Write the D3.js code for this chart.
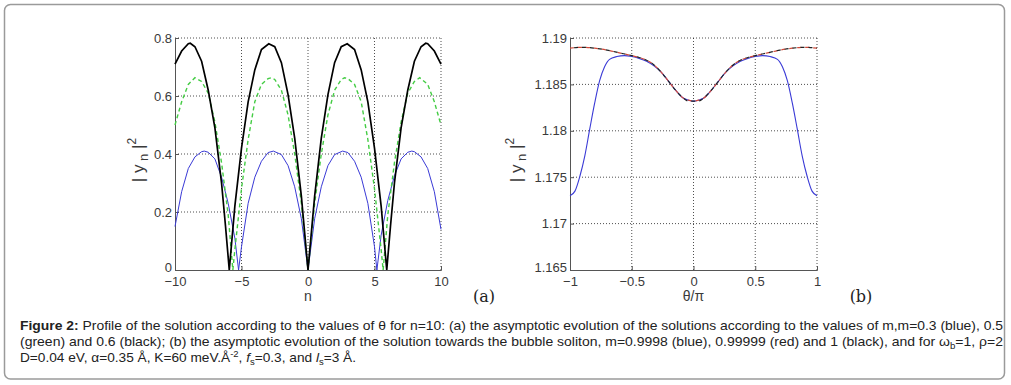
<!DOCTYPE html>
<html>
<head>
<meta charset="utf-8">
<script src="https://cdn.jsdelivr.net/npm/d3@7"></script>
<style>
body { margin: 0; background: #fff; }
svg text { font-family: "Liberation Sans", Arial, sans-serif; }
</style>
</head>
<body>
<script>
// panel (a): |y_n|^2 against n, m = 0.3 (blue), 0.5 (green), 0.6 (black)
const blueA = [[-10,0.15],[-9.5,0.27],[-9,0.35],[-8.5,0.39],[-8,0.408],[-7.8,0.41],[-7.5,0.406],[-7,0.383],[-6.5,0.32],[-6,0.23],[-5.5,0.11],[-5.22,0],
  [-5,0.08],[-4.5,0.23],[-4,0.32],[-3.5,0.375],[-3,0.405],[-2.6,0.41],[-2,0.398],[-1.5,0.36],[-1,0.287],[-0.5,0.177],[0,0],
  [0.5,0.177],[1,0.287],[1.5,0.36],[2,0.398],[2.6,0.41],[3,0.405],[3.5,0.375],[4,0.32],[4.5,0.23],[5,0.08],[5.18,0],
  [5.5,0.12],[6,0.24],[6.5,0.325],[7,0.383],[7.5,0.406],[7.8,0.41],[8,0.408],[8.5,0.39],[9,0.35],[9.5,0.27],[10,0.14]]
const greenA = [[-10,0.5],[-9.5,0.58],[-9,0.64],[-8.5,0.663],[-8,0.65],[-7.5,0.61],[-7,0.51],[-6.5,0.37],[-6,0.19],[-5.65,0],
  [-5.5,0.07],[-5,0.28],[-4.5,0.45],[-4,0.58],[-3.5,0.64],[-3,0.66],[-2.75,0.663],[-2.5,0.657],[-2,0.62],[-1.5,0.535],[-1,0.4],[-0.5,0.23],[0,0],
  [0.5,0.23],[1,0.4],[1.5,0.535],[2,0.62],[2.5,0.657],[2.75,0.663],[3,0.66],[3.5,0.64],[4,0.58],[4.5,0.45],[5,0.28],[5.5,0.07],[5.65,0],
  [6,0.19],[6.5,0.37],[7,0.51],[7.5,0.61],[8,0.65],[8.4,0.663],[9,0.64],[9.5,0.58],[10,0.5]]
const blackA = [[-10,0.71],[-9.5,0.755],[-9,0.78],[-8.85,0.782],[-8.5,0.77],[-8,0.72],[-7.5,0.62],[-7,0.49],[-6.5,0.3],[-6.2,0.15],[-5.92,0],
  [-5.5,0.22],[-5,0.42],[-4.5,0.58],[-4,0.69],[-3.5,0.76],[-2.95,0.78],[-2.5,0.77],[-2,0.715],[-1.5,0.605],[-1,0.455],[-0.5,0.255],[0,0],
  [0.5,0.255],[1,0.455],[1.5,0.605],[2,0.715],[2.5,0.77],[2.95,0.78],[3.5,0.76],[4,0.69],[4.5,0.58],[5,0.42],[5.5,0.22],[5.92,0],
  [6.2,0.15],[6.5,0.3],[7,0.49],[7.5,0.62],[8,0.72],[8.5,0.77],[8.85,0.782],[9,0.78],[9.5,0.755],[10,0.71]]
const nTicks = [-10, -5, 0, 5, 10]
const yTicksA = [0, 0.2, 0.4, 0.6, 0.8]

// panel (b): |y_n|^2 against theta/pi, m = 0.9998 (blue), 0.99999 (red), 1 (black)
const blueB = [[-1,1.1730],[-0.96,1.1735],[-0.92,1.1751],[-0.88,1.1773],[-0.84,1.1802],[-0.8,1.1830],[-0.76,1.1854],[-0.72,1.1869],[-0.68,1.1877],
  [-0.62,1.1880],[-0.56,1.1881],[-0.5,1.1880],[-0.44,1.1878],[-0.38,1.1875],[-0.32,1.1870],[-0.26,1.1863],[-0.2,1.1853],[-0.14,1.1843],
  [-0.08,1.1835],[-0.04,1.1833],[0,1.1832],[0.04,1.1833],[0.08,1.1835],[0.14,1.1843],[0.2,1.1853],[0.26,1.1863],[0.32,1.1870],[0.38,1.1875],
  [0.44,1.1878],[0.5,1.1880],[0.56,1.1881],[0.62,1.1880],[0.68,1.1877],[0.72,1.1869],[0.76,1.1854],[0.8,1.1830],[0.84,1.1802],[0.88,1.1773],
  [0.92,1.1751],[0.96,1.1735],[1,1.1730]]
const redB = [[-1,1.1889],[-0.9,1.1890],[-0.8,1.1889],[-0.7,1.1887],[-0.6,1.1884],[-0.5,1.1881],[-0.44,1.1879],[-0.38,1.1876],[-0.32,1.1871],
  [-0.26,1.1863],[-0.2,1.1853],[-0.14,1.1843],[-0.08,1.1835],[-0.04,1.1833],[0,1.1832],[0.04,1.1833],[0.08,1.1835],[0.14,1.1843],[0.2,1.1853],
  [0.26,1.1863],[0.32,1.1871],[0.38,1.1876],[0.44,1.1879],[0.5,1.1881],[0.6,1.1884],[0.7,1.1887],[0.8,1.1889],[0.9,1.1890],[1,1.1889]]
const blackB = [[-1,1.1889],[-0.9,1.1890],[-0.8,1.1889],[-0.7,1.1887],[-0.6,1.1884],[-0.5,1.1881],[-0.44,1.1879],[-0.38,1.1876],[-0.32,1.1871],
  [-0.26,1.1863],[-0.2,1.1853],[-0.14,1.1843],[-0.08,1.1835],[-0.04,1.1832],[0,1.1832],[0.04,1.1832],[0.08,1.1835],[0.14,1.1843],[0.2,1.1853],
  [0.26,1.1863],[0.32,1.1871],[0.38,1.1876],[0.44,1.1879],[0.5,1.1881],[0.6,1.1884],[0.7,1.1887],[0.8,1.1889],[0.9,1.1890],[1,1.1889]]
const thetaTicks = [-1, -0.5, 0, 0.5, 1]
const yTicksB = [1.165, 1.17, 1.175, 1.18, 1.185, 1.19]

const svg = d3.select('body').append('svg')
    .attr('width', 1011)
    .attr('height', 385)

// outer frame
svg.append('rect')
    .attr('x', 4.5).attr('y', 4.5)
    .attr('width', 1000).attr('height', 374.5)
    .attr('rx', 6)
    .attr('fill', 'none')
    .attr('stroke', '#9a9a9a')
    .attr('stroke-width', 1.5)

const fmt = d => String(d).replace('-', '\u2212')

function panel(opts) {
    let x = d3.scaleLinear().domain(opts.xDomain).range([opts.left, opts.right])
    let y = d3.scaleLinear().domain(opts.yDomain).range([opts.bottom, opts.top])
    let g = svg.append('g')

    // dotted grid (also gives the top and right edges)
    g.selectAll('.gx').data(opts.xTicks.slice(1)).join('line')
        .attr('x1', d => x(d)).attr('x2', d => x(d))
        .attr('y1', opts.top).attr('y2', opts.bottom)
        .attr('stroke', '#222').attr('stroke-dasharray', '1,2').attr('stroke-width', 0.8)
    g.selectAll('.gy').data(opts.yTicks.slice(1)).join('line')
        .attr('y1', d => y(d)).attr('y2', d => y(d))
        .attr('x1', opts.left).attr('x2', opts.right)
        .attr('stroke', '#222').attr('stroke-dasharray', '1,2').attr('stroke-width', 0.8)

    // axes, ticks pointing inward
    let ax = g.append('g').attr('transform', `translate(0,${opts.bottom})`)
        .call(d3.axisBottom(x).tickValues(opts.xTicks).tickSize(-4).tickPadding(7).tickFormat(fmt))
    let ay = g.append('g').attr('transform', `translate(${opts.left},0)`)
        .call(d3.axisLeft(y).tickValues(opts.yTicks).tickSize(-4).tickPadding(3).tickFormat(fmt))
    for (let a of [ax, ay]) {
        a.select('.domain').attr('stroke', '#555')
        a.selectAll('.tick line').attr('stroke', '#555')
        a.selectAll('text').style('font-size', '13px').attr('fill', '#3a3a3a').style('font-family', '"Liberation Sans", Arial, sans-serif')
    }
    // lift the lowest y label a little so it clears the x labels
    ay.selectAll('.tick text').filter(d => d === opts.yDomain[0]).attr('dy', '0.1em')

    // curves
    for (let s of opts.series) {
        g.append('path')
            .datum(s.data)
            .attr('fill', 'none')
            .attr('stroke', s.color)
            .attr('stroke-width', s.width)
            .attr('stroke-dasharray', s.dash || null)
            .attr('stroke-dashoffset', s.offset || 0)
            .attr('d', d3.line().x(d => x(d[0])).y(d => y(d[1])).curve(s.curve || d3.curveLinear))
    }

    // x label
    g.append('text')
        .attr('x', x(0)).attr('y', opts.bottom + 31)
        .attr('text-anchor', 'middle')
        .style('font-size', '14px').attr('fill', '#3a3a3a')
        .text(opts.xLabel)

    // y label |y_n|^2
    let yl = g.append('text')
        .attr('transform', `translate(${opts.yLabelX},160) rotate(-90)`)
        .attr('text-anchor', 'middle')
        .style('font-size', '17px').attr('fill', '#3a3a3a')
    yl.append('tspan').text('| y')
    yl.append('tspan').attr('dy', 4).style('font-size', '13px').text(' n')
    yl.append('tspan').attr('dy', -4).text(' |')
    yl.append('tspan').attr('dy', -8).style('font-size', '12px').text('2')

    // panel tag
    g.append('text')
        .attr('x', opts.tagX).attr('y', 302)
        .attr('text-anchor', 'middle')
        .style('font-family', '"DejaVu Serif", "Liberation Serif", serif')
        .style('font-size', '16px').attr('fill', '#222')
        .text(opts.tag)
}

panel({
    xDomain: [-10, 10], yDomain: [0, 0.8],
    left: 175, right: 441, top: 38, bottom: 270,
    xTicks: nTicks, yTicks: yTicksA,
    xLabel: 'n', yLabelX: 144, tag: '(a)', tagX: 484,
    series: [
        {data: blueA, color: '#3a3ad6', width: 1},
        {data: greenA, color: '#44cc44', width: 1.4, dash: '4,3'},
        {data: blackA, color: '#000', width: 1.7}
    ]
})

panel({
    xDomain: [-1, 1], yDomain: [1.165, 1.19],
    left: 570, right: 817, top: 38, bottom: 270,
    xTicks: thetaTicks, yTicks: yTicksB,
    xLabel: '\u03b8/\u03c0', yLabelX: 522, tag: '(b)', tagX: 861,
    series: [
        {data: blueB, color: '#3a3ad6', width: 1.1, curve: d3.curveMonotoneX},
        {data: redB, color: '#d04a3a', width: 1.2, dash: '4,4', curve: d3.curveMonotoneX},
        {data: blackB, color: '#222', width: 1.2, dash: '4,4', offset: 4, curve: d3.curveMonotoneX}
    ]
})

// caption
const capX = 20
const cap = svg.append('g').attr('fill', '#222').style('font-size', '13px')

let l1 = cap.append('text').attr('x', capX).attr('y', 329.5)
    .attr('textLength', 983).attr('lengthAdjust', 'spacingAndGlyphs')
l1.append('tspan').style('font-weight', 'bold').text('Figure 2:')
l1.append('tspan').text(' Profile of the solution according to the values of \u03b8 for n=10: (a) the asymptotic evolution of the solutions according to the values of m,m=0.3 (blue), 0.5')

let l2 = cap.append('text').attr('x', capX).attr('y', 346)
    .attr('textLength', 983).attr('lengthAdjust', 'spacingAndGlyphs')
l2.append('tspan').text('(green) and 0.6 (black); (b) the asymptotic evolution of the solution towards the bubble soliton, m=0.9998 (blue), 0.99999 (red) and 1 (black), and for \u03c9')
l2.append('tspan').attr('dy', 3).style('font-size', '9px').text('b')
l2.append('tspan').attr('dy', -3).text('=1, \u03c1=2')

let l3 = cap.append('text').attr('x', capX).attr('y', 362)
    .attr('textLength', 336).attr('lengthAdjust', 'spacingAndGlyphs')
l3.append('tspan').text('D=0.04 eV, \u03b1=0.35 \u00c5, K=60 meV.\u00c5')
l3.append('tspan').attr('dy', -5).style('font-size', '9px').text('-2')
l3.append('tspan').attr('dy', 5).text(', ')
l3.append('tspan').style('font-style', 'italic').text('f')
l3.append('tspan').attr('dy', 3).style('font-size', '9px').text('s')
l3.append('tspan').attr('dy', -3).text('=0.3, and ')
l3.append('tspan').style('font-style', 'italic').text('l')
l3.append('tspan').attr('dy', 3).style('font-size', '9px').text('s')
l3.append('tspan').attr('dy', -3).text('=3 \u00c5.')
</script>
</body>
</html>
